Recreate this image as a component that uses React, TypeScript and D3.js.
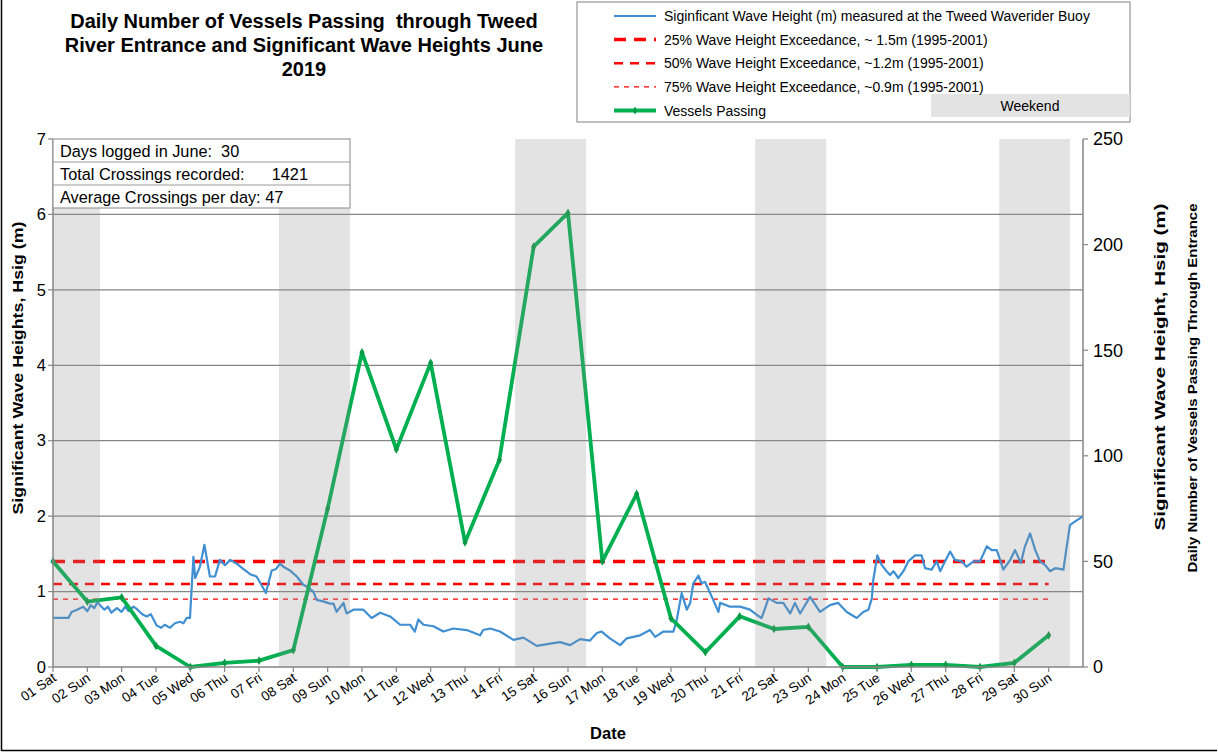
import React from "react";
import * as d3 from "d3";

const dayLabels = [
  "01 Sat","02 Sun","03 Mon","04 Tue","05 Wed","06 Thu","07 Fri","08 Sat","09 Sun","10 Mon",
  "11 Tue","12 Wed","13 Thu","14 Fri","15 Sat","16 Sun","17 Mon","18 Tue","19 Wed","20 Thu",
  "21 Fri","22 Sat","23 Sun","24 Mon","25 Tue","26 Wed","27 Thu","28 Fri","29 Sat","30 Sun",
];
const vesselsPassing = [50,31,33,10,0,2,3,8,75,149,103,144,59,98,199,215,50,82,23,7,24,18,19,0,0,1,1,0,2,15];
const weekendBands: [number, number][] = [[1, 2.37],[7.58, 9.65],[14.46, 16.53],[21.45, 23.52],[28.56, 30.62]];
const exceedance = [
  { value: 1.4, width: 3.5, dash: "12,8", label: "25% Wave Height Exceedance, ~ 1.5m (1995-2001)" },
  { value: 1.1, width: 2.6, dash: "9,7", label: "50% Wave Height Exceedance, ~1.2m (1995-2001)" },
  { value: 0.9, width: 1.3, dash: "5,5", label: "75% Wave Height Exceedance, ~0.9m (1995-2001)" },
];
const leftTicks = [0,1,2,3,4,5,6,7];
const rightTicks = [0,50,100,150,200,250];
const infoRows = ["Days logged in June:  30","Total Crossings recorded:      1421","Average Crossings per day: 47"];
const titleLines = ["Daily Number of Vessels Passing  through Tweed","River Entrance and Significant Wave Heights June","2019"];
const waveHeight: [number, number][] = [
  [1.00,0.65],[1.45,0.65],[1.54,0.73],[1.7,0.76],[1.88,0.80],[2.0,0.74],[2.1,0.82],[2.2,0.78],[2.3,0.86],[2.37,0.82],
  [2.5,0.76],[2.6,0.80],[2.7,0.72],[2.86,0.78],[3.0,0.73],[3.1,0.80],[3.2,0.74],[3.34,0.80],[3.44,0.77],[3.6,0.70],
  [3.73,0.67],[3.85,0.70],[4.02,0.55],[4.15,0.52],[4.25,0.56],[4.41,0.52],[4.55,0.58],[4.70,0.60],[4.8,0.58],[4.89,0.65],
  [4.99,0.65],[5.09,1.46],[5.14,1.18],[5.28,1.33],[5.41,1.62],[5.57,1.20],[5.72,1.20],[5.86,1.42],[6.01,1.35],[6.16,1.42],
  [6.35,1.37],[6.54,1.30],[6.74,1.23],[6.93,1.20],[7.13,1.04],[7.20,0.98],[7.37,1.28],[7.5,1.30],[7.61,1.37],[7.71,1.33],
  [7.90,1.28],[8.10,1.20],[8.29,1.09],[8.45,1.05],[8.58,1.00],[8.68,0.89],[8.87,0.87],[9.07,0.84],[9.17,0.84],[9.26,0.73],
  [9.46,0.85],[9.55,0.71],[9.75,0.76],[10.04,0.76],[10.28,0.65],[10.53,0.72],[10.82,0.67],[11.11,0.56],[11.40,0.56],[11.54,0.47],
  [11.64,0.63],[11.79,0.56],[12.08,0.54],[12.37,0.47],[12.66,0.51],[13.05,0.49],[13.44,0.42],[13.53,0.49],[13.73,0.51],[14.02,0.47],
  [14.41,0.36],[14.70,0.39],[15.09,0.28],[15.48,0.31],[15.77,0.33],[16.06,0.29],[16.35,0.37],[16.64,0.35],[16.84,0.45],[16.98,0.47],
  [17.22,0.38],[17.52,0.29],[17.71,0.38],[18.10,0.42],[18.39,0.49],[18.54,0.40],[18.78,0.47],[19.07,0.47],[19.17,0.63],[19.31,0.98],
  [19.46,0.76],[19.56,0.85],[19.65,1.11],[19.80,1.21],[19.89,1.11],[19.99,1.13],[20.19,0.93],[20.38,0.73],[20.43,0.85],[20.72,0.80],
  [21.01,0.80],[21.30,0.76],[21.50,0.69],[21.64,0.65],[21.84,0.91],[22.08,0.85],[22.27,0.85],[22.47,0.71],[22.61,0.85],[22.76,0.71],
  [23.05,0.93],[23.34,0.73],[23.63,0.82],[23.87,0.85],[24.12,0.73],[24.41,0.65],[24.60,0.73],[24.75,0.76],[24.85,0.91],[24.89,1.15],
  [25.01,1.48],[25.14,1.35],[25.28,1.27],[25.38,1.22],[25.48,1.27],[25.62,1.18],[25.77,1.27],[25.91,1.40],[26.11,1.48],[26.30,1.48],
  [26.40,1.31],[26.59,1.29],[26.74,1.40],[26.84,1.27],[26.98,1.40],[27.13,1.53],[27.27,1.42],[27.47,1.40],[27.61,1.33],[27.81,1.40],
  [28.00,1.40],[28.20,1.60],[28.34,1.55],[28.49,1.55],[28.68,1.29],[28.88,1.42],[29.02,1.55],[29.19,1.38],[29.31,1.60],[29.46,1.77],
  [29.61,1.55],[29.75,1.40],[29.90,1.35],[30.04,1.27],[30.19,1.31],[30.43,1.29],[30.51,1.55],[30.62,1.88],[30.77,1.93],[30.91,1.97],[30.99,2.0],
];

const FONT = "'Liberation Sans', Arial, sans-serif";
const AXIS = "#868686";
const BLUE = "#3f8fd2";
const GREEN = "#00b050";

export default function App() {
  const W = 1218, H = 753;
  const left = 53, right = 1083, top = 139, bottom = 667;
  const x = d3.scaleLinear().domain([1, 31]).range([left, right]);
  const y = d3.scaleLinear().domain([0, 7]).range([bottom, top]);
  const yR = d3.scaleLinear().domain([0, 250]).range([bottom, top]);

  const waveLine = d3.line<[number, number]>().x(d => x(d[0])).y(d => y(d[1]));
  const vesselLine = d3.line<number>().x((_, i) => x(i + 1)).y(d => yR(d));

  return (
    <svg width={W} height={H} style={{ position: "absolute", left: 0, top: 0, background: "#fff" }} fontFamily={FONT}>
      <rect x={0} y={0} width={W} height={H} fill="#fff" />
      {leftTicks.filter(t => t > 0 && t < 7).map(t => (
        <line key={t} x1={left} x2={right} y1={y(t)} y2={y(t)} stroke={AXIS} strokeWidth={1.2} />
      ))}
      {exceedance.map(e => (
        <line key={e.value} x1={x(1)} x2={x(30)} y1={y(e.value)} y2={y(e.value)} stroke="#ff0000"
          strokeWidth={e.width} strokeDasharray={e.dash} />
      ))}
      <path d={waveLine(waveHeight) || ""} fill="none" stroke={BLUE} strokeWidth={2.2} strokeLinejoin="round" />
      <path d={vesselLine(vesselsPassing) || ""} fill="none" stroke={GREEN} strokeWidth={3.8} strokeLinejoin="round" />
      {vesselsPassing.map((v, i) => (
        <path key={i} d={d3.symbol(d3.symbolDiamond, 22)() || ""} transform={`translate(${x(i + 1)},${yR(v)})`} fill="#0a9a45" />
      ))}
      {weekendBands.map((b, i) => (
        <rect key={i} x={x(b[0])} y={top} width={x(b[1]) - x(b[0])} height={bottom - top} fill="#8f8f8f" fillOpacity={0.25} />
      ))}
      <line x1={left} x2={left} y1={top} y2={bottom} stroke={AXIS} strokeWidth={1.5} />
      <line x1={right} x2={right} y1={top} y2={bottom} stroke={AXIS} strokeWidth={1.5} />
      <line x1={left} x2={right} y1={bottom} y2={bottom} stroke={AXIS} strokeWidth={1.5} />
      {leftTicks.map(t => (
        <g key={t}>
          <line x1={left - 5} x2={left} y1={y(t)} y2={y(t)} stroke={AXIS} strokeWidth={1.2} />
          <text x={left - 7} y={y(t)} dy="0.35em" textAnchor="end" fontSize={16.5} fill="#000">{t}</text>
        </g>
      ))}
      {rightTicks.map(t => (
        <g key={t}>
          <line x1={right} x2={right + 5} y1={yR(t)} y2={yR(t)} stroke={AXIS} strokeWidth={1.2} />
          <text x={right + 10} y={yR(t)} dy="0.35em" textAnchor="start" fontSize={18} fill="#000">{t}</text>
        </g>
      ))}
      {dayLabels.map((lab, i) => (
        <g key={lab}>
          <line x1={x(i + 1)} x2={x(i + 1)} y1={bottom} y2={bottom + 5} stroke={AXIS} strokeWidth={1.2} />
          <text transform={`translate(${x(i + 1) + 4},${bottom + 13}) rotate(-34)`} textAnchor="end" fontSize={13.5} fill="#000">{lab}</text>
        </g>
      ))}
      <text x={608} y={739} textAnchor="middle" fontSize={16.5} fontWeight="bold">Date</text>
      <text transform="translate(23,368) rotate(-90)" textAnchor="middle" fontSize={15} fontWeight="bold" textLength={293} lengthAdjust="spacingAndGlyphs">Significant Wave Heights, Hsig (m)</text>
      <text transform="translate(1165,367) rotate(-90)" textAnchor="middle" fontSize={15.5} fontWeight="bold" textLength={327} lengthAdjust="spacingAndGlyphs">Significant Wave Height, Hsig (m)</text>
      <text transform="translate(1197,388) rotate(-90)" textAnchor="middle" fontSize={13.5} fontWeight="bold" textLength={369} lengthAdjust="spacingAndGlyphs">Daily Number of Vessels Passing Through Entrance</text>
      <g>
        <rect x={left} y={top} width={297} height={69} fill="#fff" stroke="#9a9a9a" strokeWidth={1.2} />
        {infoRows.map((r, i) => (
          <g key={i}>
            {i > 0 && <line x1={left} x2={left + 297} y1={top + i * 23} y2={top + i * 23} stroke="#9a9a9a" strokeWidth={1.2} />}
            <text x={left + 7} y={top + i * 23 + 17.5} fontSize={16.3} style={{ whiteSpace: "pre" }}>{r}</text>
          </g>
        ))}
      </g>
      {titleLines.map((t, i) => (
        <text key={i} x={304} y={28 + i * 24} textAnchor="middle" fontSize={20} fontWeight="bold" style={{ whiteSpace: "pre" }}>{t}</text>
      ))}
      <g>
        <rect x={577} y={2} width={553} height={120} fill="#fff" stroke="#808080" strokeWidth={1} />
        <rect x={931} y={94} width={199} height={23} fill="#e3e3e3" />
        <text x={1030} y={111} textAnchor="middle" fontSize={14}>Weekend</text>
        <line x1={614} x2={656} y1={16} y2={16} stroke={BLUE} strokeWidth={2} />
        <text x={664} y={20.5} fontSize={14}>Siginficant Wave Height (m) measured at the Tweed Waverider Buoy</text>
        {exceedance.map((e, i) => (
          <g key={i}>
            <line x1={614} x2={656} y1={39.5 + i * 23.7} y2={39.5 + i * 23.7} stroke="#ff0000" strokeWidth={e.width} strokeDasharray={e.dash} />
            <text x={664} y={44.5 + i * 23.7} fontSize={14}>{e.label}</text>
          </g>
        ))}
        <line x1={614} x2={656} y1={110.5} y2={110.5} stroke={GREEN} strokeWidth={3.8} />
        <path d={d3.symbol(d3.symbolDiamond, 18)() || ""} transform="translate(635,110.5)" fill="#0a9a45" />
        <text x={664} y={115.5} fontSize={14}>Vessels Passing</text>
      </g>
      <line x1={1.5} x2={1.5} y1={0} y2={751} stroke="#000" strokeWidth={1.5} />
      <line x1={1.5} x2={1217} y1={750.5} y2={750.5} stroke="#000" strokeWidth={1.5} />
    </svg>
  );
}
